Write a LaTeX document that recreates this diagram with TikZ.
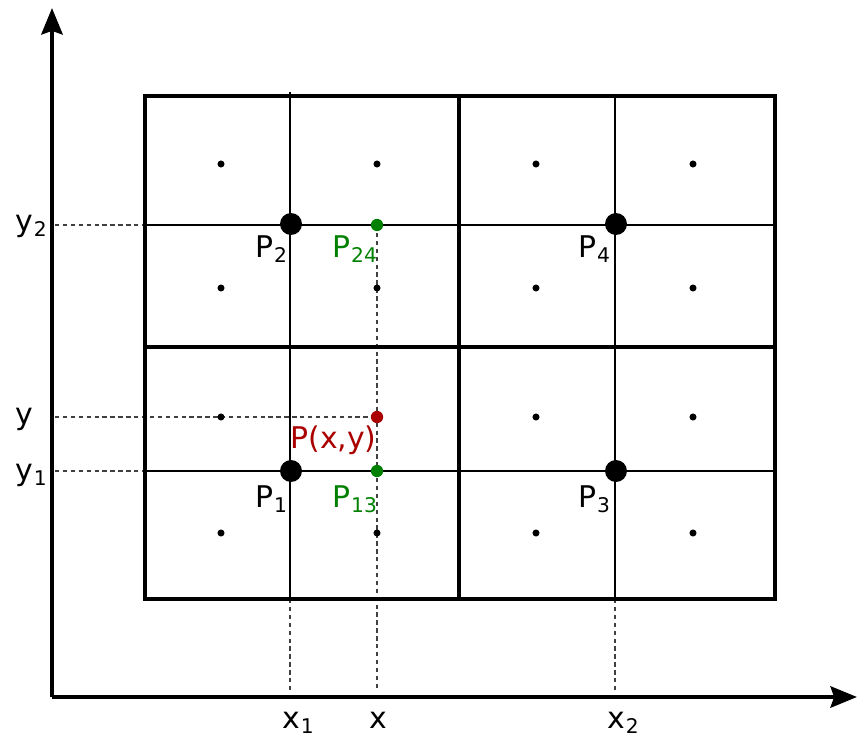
\documentclass[tikz,border=0pt]{standalone}
\usepackage{fontspec}
\setmainfont{DejaVu Sans}
\usepackage{xcolor}
\usetikzlibrary{arrows.meta,positioning}
\definecolor{ptgreen}{HTML}{008000}
\definecolor{ptred}{HTML}{AA0000}
\newcommand{\idx}[1]{\kern0.5pt\raisebox{-3pt}{\fontsize{11.5}{12}\selectfont #1}}

\begin{document}
\begin{tikzpicture}[
  x=0.02cm,
  y=-0.02cm,
  axis/.style={-{Stealth[length=15pt,width=12pt,inset=2pt]}, line width=2.6pt},
  cell/.style={line width=2.6pt},
  grid/.style={line width=0.6pt},
  guide/.style={dash pattern=on 2.5pt off 2pt, line width=0.6pt, draw=black!75},
  knot/.style={circle, fill=black, inner sep=0pt, minimum size=12.5pt},
  sample/.style={circle, fill=black, inner sep=0pt, minimum size=4pt},
  interp/.style={circle, fill=ptgreen, inner sep=0pt, minimum size=7pt},
  target/.style={circle, fill=ptred, inner sep=0pt, minimum size=7pt},
  lbl/.style={anchor=base west, inner sep=0pt, font=\fontsize{17}{20}\selectfont}
]
\useasboundingbox (0,0) rectangle (859,740);

% axes
\coordinate (O) at (52,697);
\draw[axis] (O) -- (52,8);
\draw[axis] (O) -- (857,697);

% thin grid through the knots
\draw[grid] (290,92) -- (290,599);
\draw[grid] (615,96) -- (615,599);
\draw[grid] (145,225) -- (775,225);
\draw[grid] (145,471) -- (775,471);

% guides to the axes
\draw[guide] (55,225) -- (145,225);
\draw[guide] (55,471) -- (145,471);
\draw[guide] (55,417) -- (377,417);
\draw[guide] (290,599) -- (290,690);
\draw[guide] (615,599) -- (615,690);
\draw[guide] (377,225) -- (377,690);

% cells
\draw[cell] (145,96) rectangle (775,599);
\draw[cell] (459,96) -- (459,599);
\draw[cell] (145,347) -- (775,347);

% samples
\node[sample] (s11) at (221,164) {};
\node[sample] (s12) at (377,164) {};
\node[sample] (s13) at (536,164) {};
\node[sample] (s14) at (693,164) {};
\node[sample] (s21) at (221,288) {};
\node[sample] (s22) at (377,288) {};
\node[sample] (s23) at (536,288) {};
\node[sample] (s24) at (693,288) {};
\node[sample] (s31) at (221,417) {};
\node[sample] (s34) at (693,417) {};
\node[sample] (s33) at (536,417) {};
\node[sample] (s41) at (221,533) {};
\node[sample] (s42) at (377,533) {};
\node[sample] (s43) at (536,533) {};
\node[sample] (s44) at (693,533) {};

% knots and interpolated points
\node[knot] (P1) at (291,471) {};
\node[knot] (P2) at (291,224) {};
\node[knot] (P3) at (616,471) {};
\node[knot] (P4) at (616,224) {};
\node[interp] (P13) at (377,471) {};
\node[interp] (P24) at (377,225) {};
\node[target] (Pxy) at (377,417) {};

\node[lbl] (lP2) at (255,257) {P\idx{2}};
\node[lbl, text=ptgreen] (lP24) at (332,257) {P\idx{24}};
\node[lbl] (lP4) at (578,257) {P\idx{4}};
\node[lbl, text=ptred] (lPxy) at (290,448) {P(x,y)};
\node[lbl] (lP1) at (255,507) {P\idx{1}};
\node[lbl, text=ptgreen] (lP13) at (332,507) {P\idx{13}};
\node[lbl] (lP3) at (578,507) {P\idx{3}};

% axis labels
\node[lbl] (ly2) at (15,231) {y\idx{2}};
\node[lbl] (ly) at (15,424) {y};
\node[lbl] (ly1) at (15,480) {y\idx{1}};
\node[lbl] (lx1) at (282,728) {x\idx{1}};
\node[lbl] (lx) at (369,728) {x};
\node[lbl] (lx2) at (607,728) {x\idx{2}};
\end{tikzpicture}
\end{document}
